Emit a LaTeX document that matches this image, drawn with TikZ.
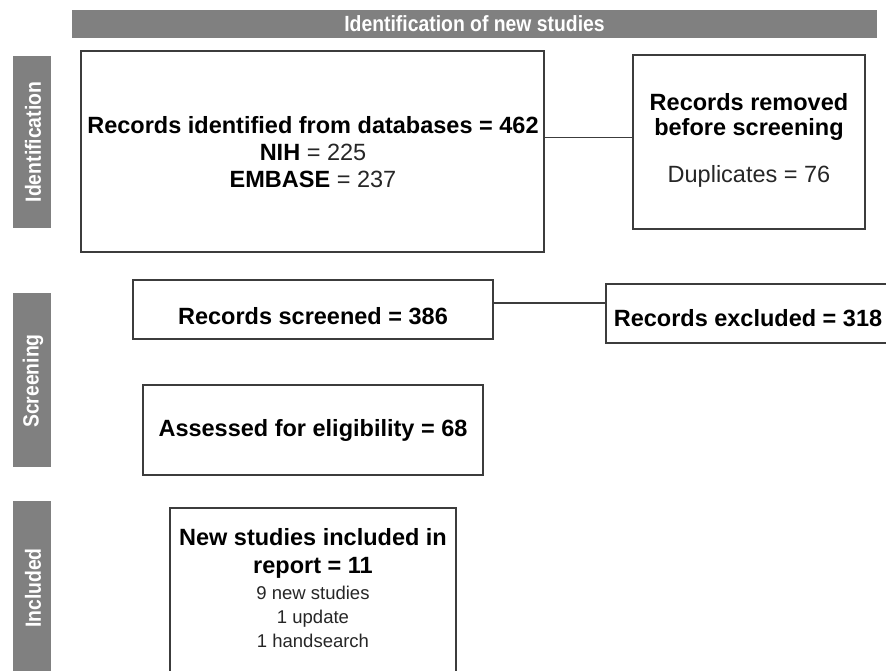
\documentclass[tikz,border=0pt]{standalone}
\usepackage{fontspec}
\setmainfont{Liberation Sans}
\newfontfamily\narrowsans[FakeStretch=0.88]{Liberation Sans}
\usetikzlibrary{calc}
\definecolor{bargray}{HTML}{808080}
\definecolor{edgegray}{HTML}{3C3C3C}
\definecolor{txtgray}{HTML}{262626}
\tikzset{
  box/.style={draw=edgegray, line width=1.4pt, fill=white, inner sep=0pt},
  bar/.style={fill=bargray, inner sep=0pt, minimum width=38pt},
  bartext/.style={text=white, font=\narrowsans\bfseries\fontsize{22}{24}\selectfont, rotate=90, inner sep=0pt},
  maintext/.style={align=center, font=\fontsize{23.5}{27}\selectfont, text=black, inner sep=0pt},
  smalltext/.style={align=center, font=\fontsize{18.5}{24}\selectfont, text=txtgray, inner sep=0pt},
  conn/.style={draw=edgegray, line width=1.2pt},
}
\newcommand{\rg}[1]{\textcolor{txtgray}{#1}}
\begin{document}
\begin{tikzpicture}[x=1pt,y=-1pt]
\useasboundingbox (0,0) rectangle (886,671);
\clip (0,0) rectangle (886,671);

% banner
\node[fill=bargray, minimum width=805pt, minimum height=28pt, inner sep=0pt,
      text=white, font=\narrowsans\bfseries\fontsize{22}{24}\selectfont] (banner) at (474.5,24) {Identification of new studies};

% side bars
\node[bar, minimum height=172pt] (barid) at (32,142) {};
\node[bartext] (barid-t) at (33,142) {Identification};
\node[bar, minimum height=174pt] (barsc) at (32,380) {};
\node[bartext] (barsc-t) at (33,381) {Screening};
\node[bar, minimum height=180pt] (barin) at (32,591) {};
\node[bartext] (barin-t) at (33,588) {Included};

% boxes
\node[box, minimum width=463pt, minimum height=201pt] (b1) at (312.5,151.5) {};
\node[box, minimum width=232pt, minimum height=174pt] (b2) at (749,142) {};
\node[box, minimum width=360pt, minimum height=59pt] (b3) at (313,309.5) {};
\node[box, minimum width=294pt, minimum height=59pt] (b4) at (753,313.5) {};
\node[box, minimum width=340pt, minimum height=90pt] (b5) at (313,430) {};
\node[box, minimum width=286pt, minimum height=182pt] (b6) at (313,599) {};

% texts
\node[maintext] (t1) at (313,152) {\textbf{Records identified from databases = 462}\\
  \textbf{NIH} \rg{= 225}\\ \textbf{EMBASE} \rg{= 237}};
\node[maintext, font=\fontsize{23.5}{25}\selectfont] (t2) at (749,140) {\textbf{Records removed}\\
  \textbf{before screening}\\[22pt] \rg{Duplicates = 76}};
\node[maintext] (t3) at (313,316) {\textbf{Records screened = 386}};
\node[maintext] (t4) at (748,318) {\textbf{Records excluded = 318}};
\node[maintext] (t5) at (313,430) {\textbf{Assessed for eligibility = 68}};
\node[maintext, font=\fontsize{23.5}{28}\selectfont] (t6a) at (313,553) {\textbf{New studies included in}\\ \textbf{report = 11}};
\node[smalltext] (t6b) at (313,617) {9 new studies\\ 1 update\\ 1 handsearch};

% connectors
\draw[conn] ($(b1.east)+(0,-14)$) coordinate (j1) -- (j1 -| b2.west);
\draw[conn] ($(b3.east)+(0,-6.5)$) coordinate (j2) -- (j2 -| b4.west);
\end{tikzpicture}
\end{document}
